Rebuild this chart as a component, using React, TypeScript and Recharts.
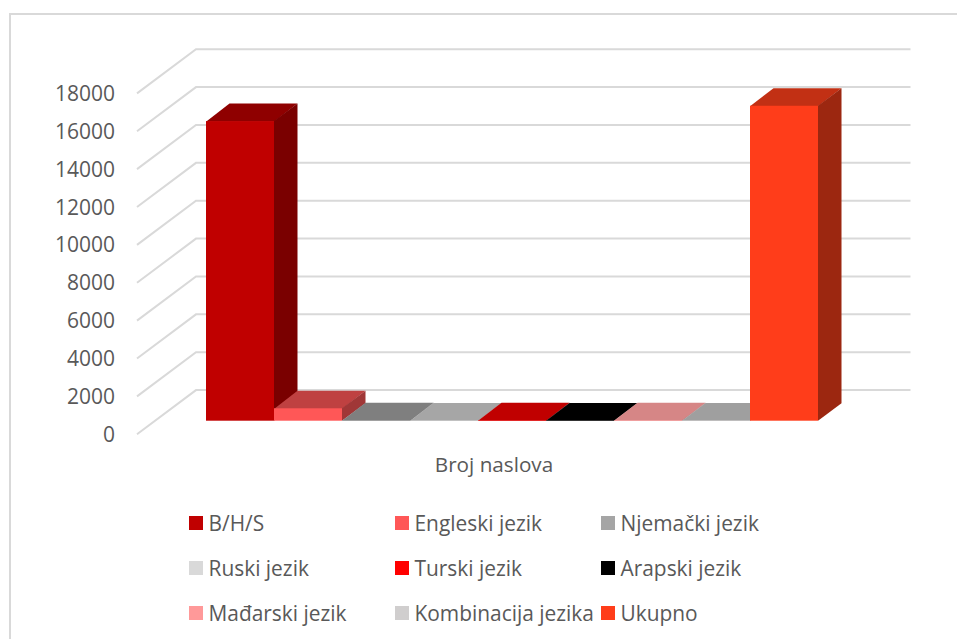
import React from "react";
import { BarChart, Bar, XAxis, YAxis, CartesianGrid, Legend } from "recharts";

const CATEGORY = "Broj naslova";
const seriesNames = ["B/H/S", "Engleski jezik", "Njemački jezik", "Ruski jezik", "Turski jezik", "Arapski jezik", "Mađarski jezik", "Kombinacija jezika", "Ukupno"];
const seriesValues = [15820, 655, 25, 10, 20, 10, 25, 15, 16630];
const legendColors = ["#c00000", "#ff5757", "#a5a5a5", "#d9d9d9", "#ff0000", "#000000", "#ff9999", "#d0cece", "#ff3d1a"];
const topColors = ["#8f0000", "#bf4141", "#7f7f7f", "#a6a6a6", "#c00000", "#000000", "#d68686", "#9f9f9f", "#c23014"];
const sideColors = ["#7a0000", "#a03737", "#6b6b6b", "#8c8c8c", "#a00000", "#000000", "#b57272", "#868686", "#9c2710"];
const yTicks = [0, 2000, 4000, 6000, 8000, 10000, 12000, 14000, 16000, 18000];

const data = [
  Object.fromEntries([["category", CATEGORY], ...seriesNames.map((n, i) => [n, seriesValues[i]])]),
];

const FONT = "'Open Sans', sans-serif";
const TEXT = "#595959";
const DX = 23.5;
const DY = 17.5;

function Box3D(props: any) {
  const { x, y, width, height, top, side, fill } = props;
  const r = x + width;
  const b = y + height;
  const seam = Math.min(0.6, height);
  return (
    <g>
      <polygon points={`${x},${y + seam} ${x + DX},${y - DY} ${r + DX},${y - DY} ${r},${y + seam}`} fill={top} />
      <polygon points={`${r},${y} ${r + DX},${y - DY} ${r + DX},${b - DY} ${r},${b}`} fill={side} />
      <rect x={x} y={y} width={width} height={height} fill={fill} />
    </g>
  );
}

function GridLine(props: any) {
  const y = props.y1;
  const pts = `137,${y + 13.6} 196,${y - 30.6} 910.5,${y - 30.6}`;
  return <polyline key={props.key ?? y} points={pts} fill="none" stroke="#d9d9d9" strokeWidth={2} />;
}

function YTick(props: any) {
  return (
    <text x={115} y={props.y + 13.6} dy="0.36em" textAnchor="end" fontFamily={FONT} fontSize={21} fill={TEXT}>
      {props.payload.value}
    </text>
  );
}

function XTick(props: any) {
  return (
    <text x={props.x - 18} y={465} dy="0.36em" textAnchor="middle" fontFamily={FONT} fontSize={20.7} fill={TEXT}>
      {props.payload.value}
    </text>
  );
}

function LegendGrid(props: any) {
  return (
    <div style={{ display: "grid", gridTemplateColumns: "206px 206px 206px", gridAutoRows: "45px" }}>
      {(props.payload || []).map((p: any) => (
        <div key={p.value} style={{ display: "flex", alignItems: "center", height: 14 }}>
          <span style={{ width: 14, height: 14, background: p.color, marginRight: 5.5, flex: "none" }} />
          <span style={{ fontFamily: FONT, fontSize: 20.9, color: TEXT, whiteSpace: "nowrap" }}>{p.value}</span>
        </div>
      ))}
    </div>
  );
}

export default function App() {
  return (
    <div style={{ position: "absolute", left: 0, top: 0, width: 957, height: 639, overflow: "hidden", background: "#fff" }}>
      <div style={{ position: "absolute", left: 9, top: 13, width: 970, height: 650, border: "2px solid #d9d9d9", boxSizing: "border-box" }} />
      <div style={{ position: "absolute", left: 0, top: 0 }}>
        <BarChart
          width={957}
          height={639}
          data={data}
          barSize={68}
          barGap={0}
          margin={{ top: 79.8, right: 70, bottom: 188.3, left: 0 }}
        >
          <CartesianGrid vertical={false} horizontal={GridLine as any} />
          <XAxis dataKey="category" axisLine={false} tickLine={false} height={30} tick={XTick as any} />
          <YAxis width={137} domain={[0, 18000]} ticks={yTicks} axisLine={false} tickLine={false} interval={0} tick={YTick as any} />
          <Legend
            layout="vertical"
            verticalAlign="middle"
            align="center"
            itemSorter={null}
            content={LegendGrid as any}
            wrapperStyle={{ position: "absolute", left: 189, top: 516, width: 640 }}
          />
          {seriesNames.map((name, i) => (
            <Bar
              key={name}
              dataKey={name}
              name={name}
              fill={legendColors[i]}
              isAnimationActive={false}
              shape={(p: any) => <Box3D {...p} fill={legendColors[i]} top={topColors[i]} side={sideColors[i]} />}
            />
          ))}
        </BarChart>
      </div>
    </div>
  );
}
